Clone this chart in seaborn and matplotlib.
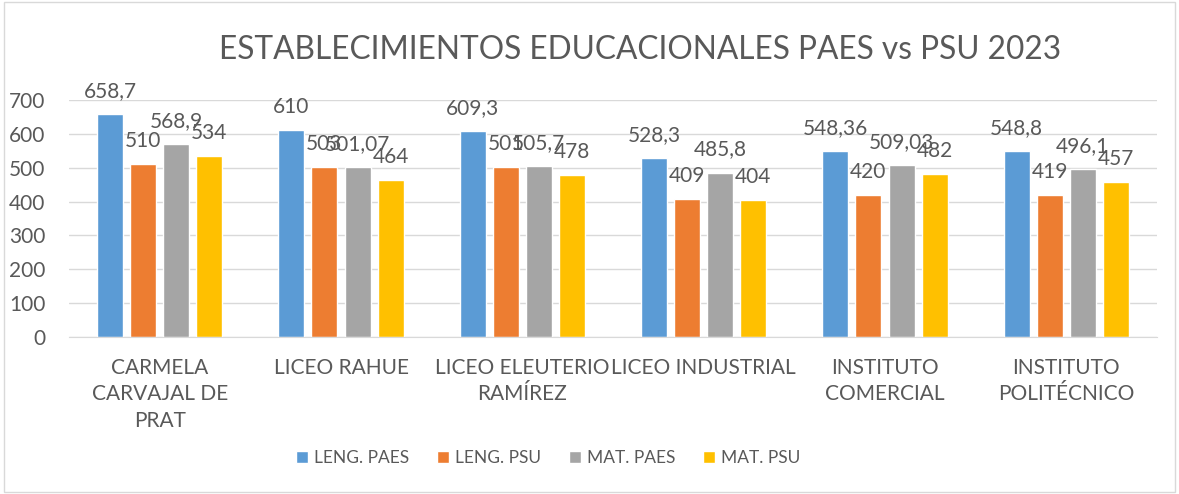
import pandas as pd
import matplotlib
matplotlib.use('Agg')
import matplotlib.pyplot as plt
import seaborn as sns
from matplotlib.patches import Rectangle

# -----------------------------
# Data
# -----------------------------
schools = ['CARMELA\nCARVAJAL DE\nPRAT', 'LICEO RAHUE', 'LICEO ELEUTERIO\nRAMÍREZ',
           'LICEO INDUSTRIAL', 'INSTITUTO\nCOMERCIAL', 'INSTITUTO\nPOLITÉCNICO']
series = ['LENG. PAES', 'LENG. PSU', 'MAT. PAES', 'MAT. PSU']
leng_paes = [658.7, 610, 609.3, 528.3, 548.36, 548.8]
leng_psu = [510, 503, 501, 409, 420, 419]
mat_paes = [568.9, 501.07, 505.7, 485.8, 509.03, 496.1]
mat_psu = [534, 464, 478, 404, 482, 457]
colors = ['#5B9BD5', '#ED7D31', '#A5A5A5', '#FFC000']

# long-form table for seaborn
rows = []
for name, vals in zip(series, [leng_paes, leng_psu, mat_paes, mat_psu]):
    for school, v in zip(schools, vals):
        rows.append({'school': school, 'serie': name, 'valor': v})
df = pd.DataFrame(rows)

# -----------------------------
# Style
# -----------------------------
sns.set_style('white')
plt.rcParams['font.family'] = ['Lato', 'DejaVu Sans']
txt = '#595959'

fig = plt.figure(figsize=(11.79, 4.94), dpi=100)
ax = fig.add_axes([69 / 1179, 1 - 337 / 494, 1088 / 1179, 237 / 494])

sns.barplot(data=df, x='school', y='valor', hue='serie', order=schools,
            hue_order=series, palette=colors, width=0.73, gap=0.216,
            saturation=1, ax=ax, legend=True)

# data labels above each bar
for cont in ax.containers:
    for bar in cont:
        h = bar.get_height()
        lab = str(h).replace('.', ',')
        if lab.endswith(',0'):
            lab = lab[:-2]
        ax.annotate(lab, (bar.get_x() + bar.get_width() / 2, h),
                    xytext=(0, 17), textcoords='offset pixels',
                    ha='center', va='baseline', fontsize=15, color=txt)

ax.set_ylim(0, 700)
ax.set_yticks(range(0, 701, 100))
ax.yaxis.grid(True, color='#d9d9d9', linewidth=1)
ax.set_axisbelow(True)
for s in ['top', 'right', 'left']:
    ax.spines[s].set_visible(False)
ax.spines['bottom'].set_color('#d9d9d9')
ax.tick_params(axis='y', length=0, pad=17, labelsize=15, labelcolor=txt)
ax.tick_params(axis='x', length=0, pad=15, labelsize=15, labelcolor=txt)
for t in ax.get_xticklabels():
    t.set_linespacing(1.4)
ax.set_xlabel('')
ax.set_ylabel('')

fig.text(640 / 1179, 1 - 50 / 494, 'ESTABLECIMIENTOS EDUCACIONALES PAES vs PSU 2023',
         ha='center', va='center', fontsize=22.8, color=txt)

handles, labels = ax.get_legend_handles_labels()
ax.legend_.remove()
fig.legend(handles, labels, loc='center', bbox_to_anchor=(548 / 1179, 1 - 458 / 494),
           ncol=4, frameon=False, fontsize=12.5, labelcolor=txt, handlelength=0.7,
           handleheight=0.7, handletextpad=0.35, columnspacing=1.6)

fig.patches.append(Rectangle((0.003, 0.004), 0.994, 0.992, transform=fig.transFigure,
                             fill=False, edgecolor='#d9d9d9', linewidth=1))

fig.savefig('out.png', dpi=100)
